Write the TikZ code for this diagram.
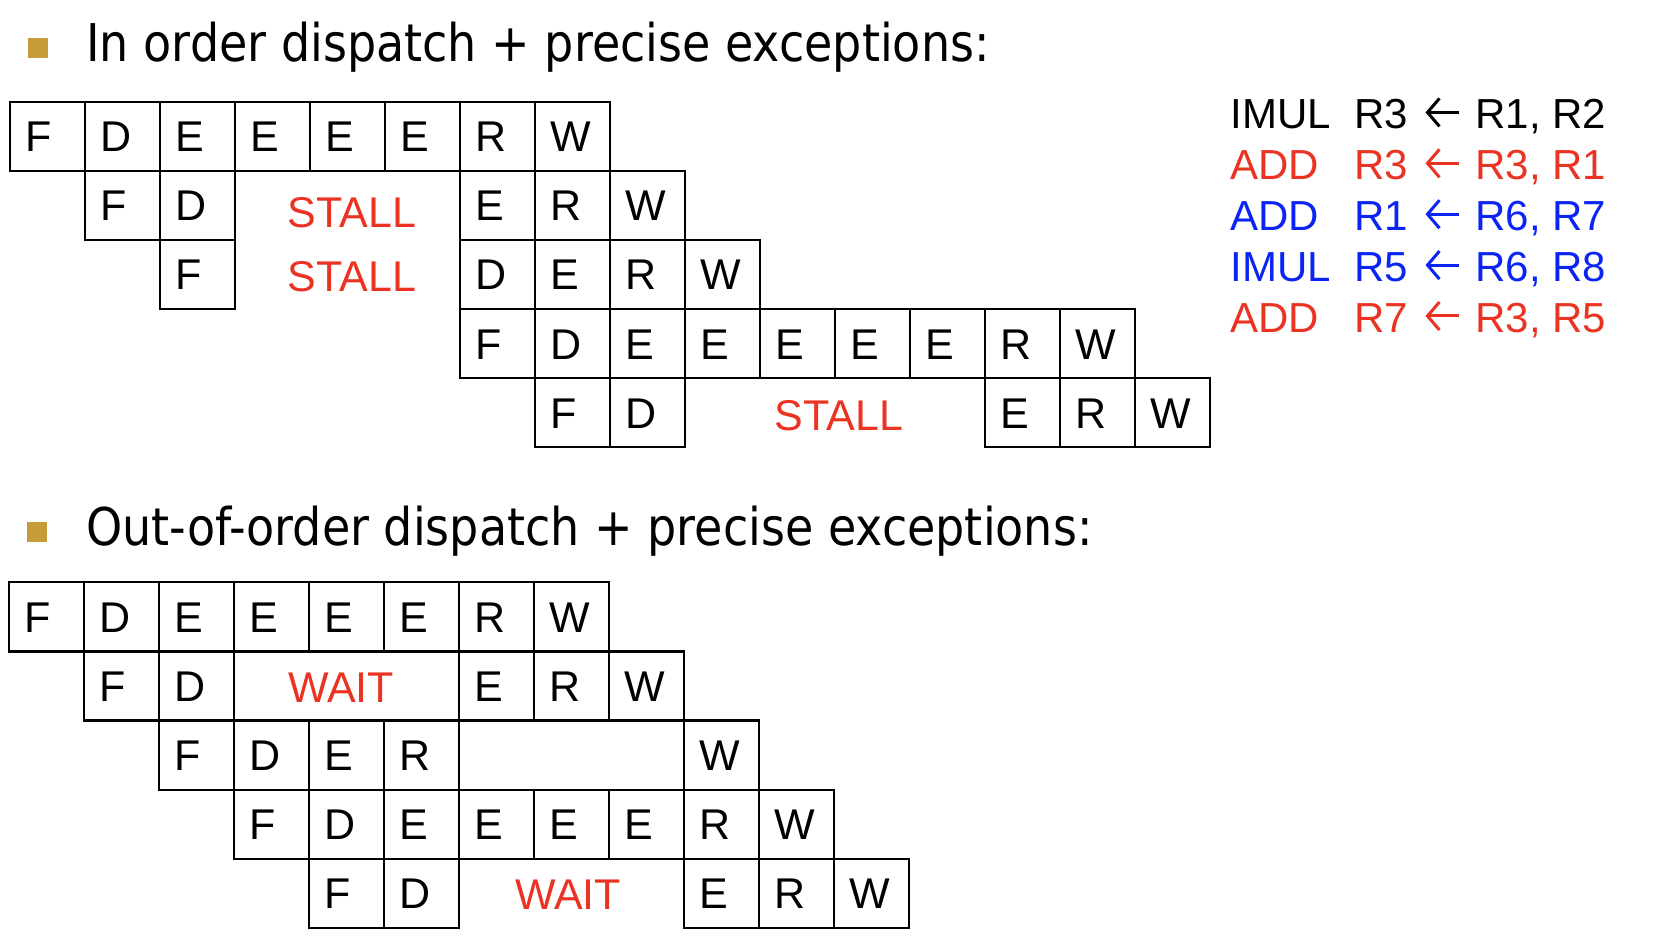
\documentclass[tikz,border=0pt]{standalone}
\usepackage{fontspec}
\usetikzlibrary{arrows.meta}
\setmainfont{Liberation Sans}
\newfontfamily\titlefont[FakeStretch=0.885]{DejaVu Sans}

\definecolor{stallred}{RGB}{234,51,35}
\definecolor{regblue}{RGB}{10,36,245}
\definecolor{bulletgold}{RGB}{198,156,58}

\tikzset{
  cell/.style={draw, line width=1.1pt, inner xsep=8pt, inner ysep=0pt,
    text width=21.5pt, align=left, text height=25pt, text depth=9.55pt,
    font=\fontsize{21.5}{24}\selectfont},
  stall/.style={anchor=base, inner sep=0pt, text=stallred,
    font=\fontsize{21.5}{24}\selectfont},
  title/.style={anchor=base west, inner sep=0pt,
    font=\titlefont\fontsize{26}{30}\selectfont},
  bullet/.style={fill=bulletgold, minimum size=10pt, inner sep=0pt},
  instr/.style={anchor=base west, inner sep=0pt,
    font=\fontsize{21}{24}\selectfont},
  regarrow/.style={line width=1.5pt,
    -{Straight Barb[length=6pt,width=14pt,line width=1.5pt]}}
}

% one row of pipeline stages: name, left x, top y, col/stage list
\newcommand{\cellrow}[4]{%
  \foreach \c/\s in {#4}
    \node[cell] (#1-\c) at ({#2+75*\c+37.5},{#3+34.55}) {\s};}

\begin{document}
\begin{tikzpicture}[x=0.5pt,y=-0.5pt]
  \useasboundingbox (0,0) rectangle (1658,946);

  % in order dispatch
  \node[bullet] (bul1) at (38,48.5) {};
  \node[title] (title1) at (86,61.7) {In order dispatch + precise exceptions:};

  \cellrow{in0}{9.8}{101.7}{0/F,1/D,2/E,3/E,4/E,5/E,6/R,7/W}
  \cellrow{in1}{9.8}{170.8}{1/F,2/D,6/E,7/R,8/W}
  \cellrow{in2}{9.8}{239.9}{2/F,6/D,7/E,8/R,9/W}
  \cellrow{in3}{9.8}{309.0}{6/F,7/D,8/E,9/E,10/E,11/E,12/E,13/R,14/W}
  \cellrow{in4}{9.8}{378.1}{7/F,8/D,13/E,14/R,15/W}

  \node[stall] (stall1) at (352,228) {STALL};
  \node[stall] (stall2) at (352,292) {STALL};
  \node[stall] (stall3) at (839,430) {STALL};

  % the instructions
  \foreach \op/\dst/\src/\col [count=\i] in {IMUL/R3/{R1, R2}/black,
      ADD/R3/{R3, R1}/stallred, ADD/R1/{R6, R7}/regblue,
      IMUL/R5/{R6, R8}/regblue, ADD/R7/{R3, R5}/stallred} {
    \node[instr, text=\col] (op\i) at (1230,{129+50.9*(\i-1)}) {\op};
    \node[instr, text=\col] (dst\i) at (1354,{129+50.9*(\i-1)}) {\dst};
    \node[instr, text=\col] (src\i) at (1475,{129+50.9*(\i-1)}) {\src};
    \draw[regarrow, draw=\col] ([shift={(-8pt,8.3pt)}]src\i.base west)
      -- ([shift={(8.5pt,8.3pt)}]dst\i.base east);
  }

  % out-of-order dispatch
  \node[bullet] (bul2) at (37.3,532.3) {};
  \node[title] (title2) at (86,545) {Out-of-order dispatch + precise exceptions:};

  \cellrow{ooo0}{8.8}{582.3}{0/F,1/D,2/E,3/E,4/E,5/E,6/R,7/W}
  \cellrow{ooo1}{8.8}{651.4}{1/F,2/D,6/E,7/R,8/W}
  \cellrow{ooo2}{8.8}{720.5}{2/F,3/D,4/E,5/R,9/W}
  \cellrow{ooo3}{8.8}{789.6}{3/F,4/D,5/E,6/E,7/E,8/E,9/R,10/W}
  \cellrow{ooo4}{8.8}{858.7}{4/F,5/D,9/E,10/R,11/W}

  \node[stall] (wait1) at (341,702) {WAIT};
  \node[stall] (wait2) at (568,909) {WAIT};
\end{tikzpicture}
\end{document}
